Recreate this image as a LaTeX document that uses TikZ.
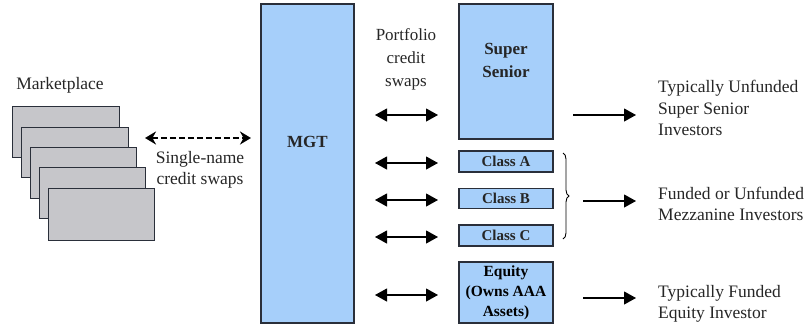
\documentclass[tikz,border=0pt]{standalone}
\usepackage{fontspec}
\setmainfont{Liberation Serif}
\usetikzlibrary{arrows.meta,decorations.pathreplacing}
\definecolor{boxblue}{HTML}{A6CFFA}
\definecolor{boxgray}{HTML}{C6C6CA}
\definecolor{edge}{HTML}{2A2F3A}
\tikzset{
  bluebox/.style={draw=edge,line width=1.1pt,fill=boxblue,inner sep=0pt},
  graybox/.style={draw=edge,line width=1pt,fill=boxgray},
  txt/.style={font=\fontsize{17.5}{21.5}\selectfont,inner sep=0pt,text=black!85},
  btxt/.style={font=\fontsize{17}{23}\selectfont\bfseries,inner sep=0pt,text=black!85},
  ctxt/.style={font=\fontsize{15}{20}\selectfont\bfseries,inner sep=0pt,text=black!85},
  dbl/.style={{Triangle[length=12pt,width=13pt]}-{Triangle[length=12pt,width=13pt]},line width=1.1pt},
  sgl/.style={-{Triangle[length=12pt,width=13pt]},line width=1.1pt},
  dsh/.style={{Stealth[length=11pt,width=13pt]}-{Stealth[length=11pt,width=13pt]},line width=2.6pt,dash pattern=on 6pt off 3pt},
}
\begin{document}
\begin{tikzpicture}[x=1pt,y=-1pt]
\useasboundingbox (0,0) rectangle (804,333);
% marketplace stack
\draw[graybox] (12,106) rectangle (119,157);
\draw[graybox] (21,127) rectangle (128,177);
\draw[graybox] (30,147) rectangle (136,198);
\draw[graybox] (39,167) rectangle (145,218);
\draw[graybox] (48,188) rectangle (154,240);
\node[txt] (mkt) at (60,85) {Marketplace};
% dashed arrow
\coordinate (dl) at (145,138);
\coordinate (dr) at (251,138);
\draw[dsh] (dl) -- (dr);
\node[txt,align=center] (sn) at (200,170) {Single-name\\credit swaps};
% MGT
\node[bluebox,minimum width=93pt,minimum height=319pt] (mgt) at (307.5,163.5) {};
\node[btxt] (mgtl) at (307.5,142) {MGT};
% portfolio label
\node[txt,align=center,font=\fontsize{17}{23}\selectfont] (pf) at (406,59) {Portfolio\\credit\\swaps};
% tranches
\node[bluebox,minimum width=94pt,minimum height=135pt] (ss) at (506,71.5) {};
\node[btxt,align=center] (ssl) at (506,60) {Super\\Senior};
\node[bluebox,minimum width=94pt,minimum height=21pt,ctxt] (ca) at (506,161.5) {Class A};
\node[bluebox,minimum width=94pt,minimum height=20pt,ctxt] (cb) at (506,198.5) {Class B};
\node[bluebox,minimum width=94pt,minimum height=21pt,ctxt] (cc) at (506,235.5) {Class C};
\node[bluebox,minimum width=94pt,minimum height=61pt,align=center,font=\fontsize{15.5}{20}\selectfont\bfseries] (eq) at (506,292.5) {Equity\\(Owns AAA\\Assets)};
% left double arrows
\foreach \n/\y in {p/115,a/163,b/200,c/237,e/295}{
  \coordinate (l\n1) at (375,\y);
  \coordinate (l\n2) at (438,\y);
  \draw[dbl] (l\n1) -- (l\n2);
}
% brace
\coordinate (bt) at (563,153);
\coordinate (bb) at (563,239);
\draw[decorate,decoration={brace,amplitude=6pt},line width=0.9pt] (bt) -- (bb);
% right arrows
\coordinate (r1a) at (573,115); \coordinate (r1b) at (636,115);
\coordinate (r2a) at (583,201); \coordinate (r2b) at (636,201);
\coordinate (r3a) at (583,298); \coordinate (r3b) at (636,298);
\draw[sgl] (r1a) -- (r1b);
\draw[sgl] (r2a) -- (r2b);
\draw[sgl] (r3a) -- (r3b);
% investor labels
\node[txt,align=left,anchor=west] (inv1) at (658,108) {Typically Unfunded\\Super Senior\\Investors};
\node[txt,align=left,anchor=west] (inv2) at (658,204) {Funded or Unfunded\\Mezzanine Investors};
\node[txt,align=left,anchor=west] (inv3) at (658,304) {Typically Funded\\Equity Investor};
\end{tikzpicture}
\end{document}
